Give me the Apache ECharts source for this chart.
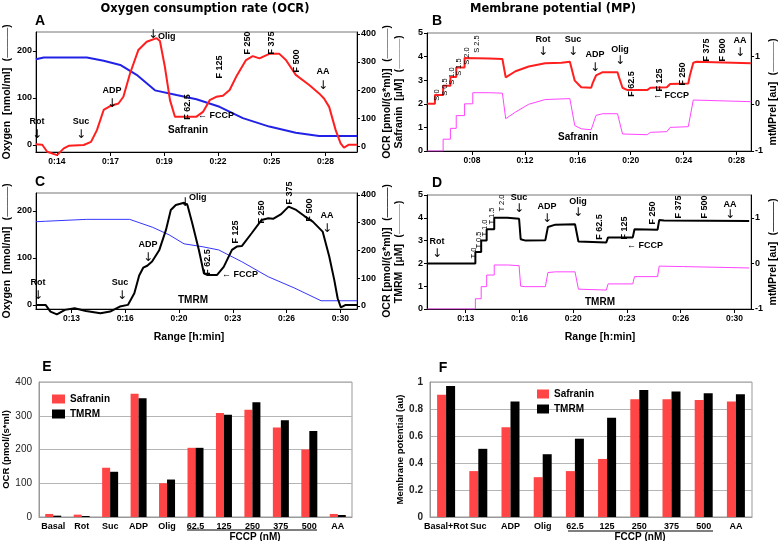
<!DOCTYPE html>
<html><head><meta charset="utf-8">
<script src="https://cdn.jsdelivr.net/npm/echarts@6/dist/echarts.min.js"></script>
<style>html,body{margin:0;padding:0;background:#fff}#c{width:780px;height:541px}</style>
</head><body><div id="c"></div>
<script>
// ---------- Panel A (Safranin run) ----------
const aOcrTime = [12.93,13.26,13.51,14.01,14.35,14.6,15.36,15.73,16.03,16.37,16.7,17.12,17.37,17.71,18.13,18.55,19.05,19.22,19.47,19.73,19.98,20.23,21.07,21.4,21.74,22.07,22.41,22.75,23.08,23.58,23.92,24.26,24.76,25.27,25.6,26.1,26.78,27.28,27.53,27.79,28.12,28.37,28.54,28.79,29.2];
const aOcr = [7,5,-20,-32,-8,1,4,15,57,129,143,152,176,260,343,372,385,375,283,164,105,105,105,122,164,176,180,200,247,307,321,313,329,329,307,254,218,188,170,140,57,10,-5,5,5];
const aO2Time = [12.94,13.34,15.52,16.37,17.21,18.04,18.97,20.06,21.07,22.24,23.42,24.76,26.1,27.28,29.2];
const aO2 = [182,186,186,179,170,149,116,106,97,81,57,39,26,19,19];
const aTicks = [14,16.72,19.44,22.16,24.88,27.6];
const aTickLabels = ['0:14','0:17','0:19','0:22','0:25','0:28'];

// ---------- Panel C (TMRM run) ----------
const cOcrTime = [10.8,11.4,11.7,12.1,12.6,13.2,13.9,14.8,15.4,16.0,16.5,16.9,17.2,17.45,17.7,18.0,18.45,18.86,19.16,19.47,19.98,20.19,20.49,20.9,21.21,21.41,22.03,22.44,22.95,23.25,23.56,24.17,24.79,25.2,25.5,26.0,26.46,26.93,27.44,27.96,28.57,28.98,29.29,29.5,29.7,30.0,30.7];
const cOcr = [4,4,-20,-30,-14,-8,-18,-26,-20,-2,4,46,110,138,145,160,202,274,346,364,372,364,298,202,118,112,112,141,202,214,216,262,310,316,314,331,358,346,324,304,268,178,94,28,-5,4,4];
const cO2Time = [10.8,11.4,13.95,16.61,18.04,19.06,19.98,21.1,22.13,23.56,25.2,26.83,28.47,30.7];
const cO2 = [177,178,182,182,165,149,130,124,117,92,60,36,9,9];
const cTicks = [13,16.33,19.67,23,26.33,29.67];
const cTickLabels = ['0:13','0:16','0:20','0:23','0:26','0:30'];

// ---------- Panel B (Safranin MP) ----------
const bRedTime = [4.62,5.2,5.2,5.82,5.82,6.37,6.37,6.81,6.81,7.44,7.44,9.3,10.3,10.55,11.29,12.29,13.53,14.77,15.4,15.77,16.26,17.01,17.14,17.38,17.88,19.0,19.13,19.38,19.75,21.24,21.49,22.73,22.98,24.35,24.47,24.73,24.97,29.08];
const bRed = [0,0,0.185,0.185,0.38,0.38,0.57,0.57,0.77,0.77,0.97,0.96,0.95,0.56,0.69,0.79,0.86,0.87,0.89,0.49,0.35,0.34,0.45,0.6,0.67,0.67,0.55,0.34,0.29,0.29,0.34,0.35,0.42,0.43,0.6,0.87,0.89,0.86];
const bMagTime = [4.62,5.82,5.82,6.37,6.37,6.81,6.81,7.44,7.44,8.06,8.06,9.3,10.3,10.55,11.29,12.29,13.53,15.4,15.77,16.26,17.01,17.14,17.38,17.88,19.0,19.13,19.38,21.24,21.49,22.73,22.98,24.35,24.47,24.73,29.08];
const bMag = [0,0,0.5,0.5,0.96,0.96,1.5,1.5,2.0,2.0,2.47,2.47,2.45,1.37,1.65,1.98,2.18,2.22,1.08,0.94,0.9,0.9,1.51,1.58,1.58,1.58,0.72,0.69,0.79,0.82,1.0,1.03,1.03,2.16,2.09];
const bTicks = [8,12,16,20,24,28];
const bTickLabels = ['0:08','0:12','0:16','0:20','0:24','0:28'];

// ---------- Panel D (TMRM MP) ----------
const dBlkTime = [10.62,13.6,13.6,13.96,13.96,14.3,14.3,14.77,14.77,15.59,16.31,16.41,16.72,17.94,18.1,18.56,19.78,19.99,21.72,21.83,23.36,23.47,24.9,25.0,25.3,30.58];
const dBlk = [0,0,0.25,0.25,0.5,0.5,0.75,0.75,1.0,1.0,0.98,0.53,0.5,0.51,0.8,0.85,0.86,0.48,0.46,0.57,0.57,0.75,0.74,0.95,0.94,0.93];
const dMagTime = [10.62,13.6,13.6,13.96,13.96,14.3,14.3,14.77,14.77,15.59,16.31,16.41,16.72,17.94,18.1,18.56,19.78,19.99,21.72,21.83,23.36,23.47,24.9,25.0,26.5,30.58];
const dMag = [0,0,0.45,0.45,0.98,0.98,1.49,1.49,1.93,1.93,1.9,1.0,0.98,0.98,1.6,1.63,1.63,0.87,0.83,1.1,1.1,1.42,1.42,1.88,1.86,1.8];
const dTicks = [13,16.33,19.67,23,26.33,29.67];
const dTickLabels = ['0:13','0:16','0:20','0:23','0:26','0:30'];

// ---------- Panel E (OCR bars) ----------
const eCats = ['Basal','Rot','Suc','ADP','Olig','62.5','125','250','375','500','AA'];
const eSaf = [9,7,146,365,100,205,308,318,265,200,9];
const eTmrm = [4,3,134,352,111,205,303,340,287,255,6];

// ---------- Panel F (MP bars) ----------
const fCats = ['Basal+Rot','Suc','ADP','Olig','62.5','125','250','375','500','AA'];
const fSaf = [0.905,0.34,0.665,0.295,0.34,0.43,0.872,0.872,0.867,0.855];
const fTmrm = [0.97,0.505,0.855,0.465,0.58,0.735,0.94,0.93,0.917,0.91];

// ================= rendering =================
const FF = '"Liberation Sans", Arial, sans-serif';
const fnt = (s, w) => (w || 'bold') + ' ' + s + 'px ' + FF;
const zip = (xs, ys) => xs.map((x, i) => [x, ys[i]]);
const RED = '#ff1f1f', BLUE = '#2222e6', MAG = '#ff45ff', BARRED = '#ff4545';

function timeAxis(g, min, max, ticks, labels) {
  return {
    type: 'value', gridIndex: g, min: min, max: max,
    axisLine: { show: true, onZero: false, lineStyle: { color: '#000', width: 1 } },
    axisTick: { show: true, customValues: ticks, length: 4, lineStyle: { color: '#000' } },
    axisLabel: {
      customValues: ticks, margin: 5, color: '#000', fontFamily: FF, fontWeight: 'bold', fontSize: 8.5,
      formatter: v => { const i = ticks.findIndex(t => Math.abs(t - v) < 1e-6); return i >= 0 ? labels[i] : ''; }
    },
    splitLine: { show: false }
  };
}
function valAxis(g, pos, min, max, ticks, name, gap, lineColor) {
  return {
    type: 'value', gridIndex: g, position: pos, min: min, max: max,
    axisLine: { show: true, onZero: false, lineStyle: { color: '#000', width: 1 } },
    axisTick: { show: true, customValues: ticks, length: 3, lineStyle: { color: '#000' } },
    axisLabel: { customValues: ticks, margin: 4, color: '#000', fontFamily: FF, fontWeight: 'bold', fontSize: 9 },
    splitLine: { show: false },
    name: '{t|' + name + '}  {p|(}{l|———}{p|)}',
    nameLocation: 'middle', nameRotate: 90, nameGap: gap,
    nameTextStyle: {
      rich: {
        t: { fontFamily: FF, fontWeight: 'bold', fontSize: 10.5, color: '#000' },
        p: { fontFamily: FF, fontWeight: 'bold', fontSize: 10, color: '#000' },
        l: { fontFamily: FF, fontSize: 10, color: lineColor }
      }
    }
  };
}
function lineSeries(name, xi, yi, data, color, width, clip) {
  return { name: name, type: 'line', xAxisIndex: xi, yAxisIndex: yi, data: data, showSymbol: false, symbol: 'none',
    lineStyle: { color: color, width: width }, itemStyle: { color: color }, clip: clip !== false, animation: false };
}

const grids = [
  { left: 32, top: 32, width: 325, height: 120, show: true, borderColor: '#777', borderWidth: 1 },   // A
  { left: 32, top: 193, width: 325, height: 116, show: true, borderColor: '#777', borderWidth: 1 },  // C
  { left: 427, top: 33, width: 328, height: 118, show: true, borderColor: '#777', borderWidth: 1 },  // B
  { left: 427, top: 195, width: 326, height: 114, show: true, borderColor: '#777', borderWidth: 1 }, // D
  { left: 39, top: 382, width: 313, height: 135, show: true, borderColor: '#999', borderWidth: 1 },  // E
  { left: 430, top: 382, width: 322, height: 135, show: true, borderColor: '#999', borderWidth: 1 }  // F
];

function catAxis(g, cats) {
  return {
    type: 'category', gridIndex: g, data: cats,
    axisLine: { show: true, lineStyle: { color: '#999' } },
    axisTick: { show: false },
    axisLabel: { interval: 0, margin: 5, color: '#000', fontFamily: FF, fontWeight: 'bold', fontSize: 9 },
    splitLine: { show: false }
  };
}
function barY(g, max, interval, name, gap, labelWeight) {
  return {
    type: 'value', gridIndex: g, min: 0, max: max, interval: interval,
    axisLine: { show: true, lineStyle: { color: '#999' } },
    axisTick: { show: false },
    axisLabel: { margin: 7, color: '#222', fontFamily: FF, fontWeight: labelWeight, fontSize: 10 },
    splitLine: { show: true, lineStyle: { color: '#b5b5b5', width: 1 } },
    name: name, nameLocation: 'middle', nameRotate: 90, nameGap: gap,
    nameTextStyle: { fontFamily: FF, fontWeight: 'bold', fontSize: 9.5, color: '#000' }
  };
}

const xAxes = [
  timeAxis(0, 12.94, 29.2, aTicks, aTickLabels),
  timeAxis(1, 10.8, 30.7, cTicks, cTickLabels),
  timeAxis(2, 4.6, 29.1, bTicks, bTickLabels),
  timeAxis(3, 10.6, 30.7, dTicks, dTickLabels),
  catAxis(4, eCats),
  catAxis(5, fCats)
];
const yAxes = [
  valAxis(0, 'left', -15, 240, [0, 100, 200], 'Oxygen  [nmol/ml]', 19, BLUE),
  valAxis(0, 'right', -21, 407, [0, 100, 200, 300, 400], 'OCR [pmol/(s*ml)]', 24, RED),
  valAxis(1, 'left', -8.5, 238, [0, 100, 200], 'Oxygen  [nmol/ml]', 19, BLUE),
  valAxis(1, 'right', -10.8, 407, [0, 100, 200, 300, 400], 'OCR [pmol/(s*ml)]', 24, '#000'),
  valAxis(2, 'left', 0, 5, [0, 1, 2, 3, 4, 5], 'Safranin  [µM]', 22, MAG),
  valAxis(2, 'right', -1, 1.5, [-1, 0, 1], 'mtMPrel [au]', 12, RED),
  valAxis(3, 'left', 0, 5, [0, 1, 2, 3, 4, 5], 'TMRM  [µM]', 22, MAG),
  valAxis(3, 'right', -1, 1.5, [-1, 0, 1], 'mtMPrel [au]', 12, '#000'),
  barY(4, 400, 100, 'OCR (pmol/(s*ml)', 26, 'normal'),
  barY(5, 1, 0.2, 'Membrane potential (au)', 17, 'bold')
];

const series = [
  lineSeries('O2 A', 0, 0, zip(aO2Time, aO2), BLUE, 2),
  lineSeries('OCR A', 0, 1, zip(aOcrTime, aOcr), RED, 2, false),
  lineSeries('O2 C', 1, 2, zip(cO2Time, cO2), '#3535ff', 1),
  lineSeries('OCR C', 1, 3, zip(cOcrTime, cOcr), '#000', 2, false),
  lineSeries('Saf B', 2, 4, zip(bMagTime, bMag), MAG, 1),
  lineSeries('MP B', 2, 5, zip(bRedTime, bRed), RED, 2),
  lineSeries('TMRM D', 3, 6, zip(dMagTime, dMag), MAG, 1),
  lineSeries('MP D', 3, 7, zip(dBlkTime, dBlk), '#000', 2),
  { name: 'Safranin', type: 'bar', xAxisIndex: 4, yAxisIndex: 8, data: eSaf, barWidth: 8, barGap: '0%', itemStyle: { color: BARRED }, animation: false },
  { name: 'TMRM', type: 'bar', xAxisIndex: 4, yAxisIndex: 8, data: eTmrm, barWidth: 8, barGap: '0%', itemStyle: { color: '#000' }, animation: false },
  { name: 'Safranin', type: 'bar', xAxisIndex: 5, yAxisIndex: 9, data: fSaf, barWidth: 9, barGap: '0%', itemStyle: { color: BARRED }, animation: false },
  { name: 'TMRM', type: 'bar', xAxisIndex: 5, yAxisIndex: 9, data: fTmrm, barWidth: 9, barGap: '0%', itemStyle: { color: '#000' }, animation: false }
];

// ---- annotations ----
function T(x, y, s, o) {
  o = o || {};
  return { type: 'text', x: x, y: y, rotation: o.rot ? Math.PI / 2 : 0, z: 100,
    style: { text: s, font: o.font || fnt(o.size || 9), fill: o.color || '#000',
      textAlign: o.align || 'center', textVerticalAlign: 'middle' } };
}
function AR(x, y) { return T(x, y, '↓', { font: 'normal 12px "DejaVu Sans", sans-serif' }); }
function L(x1, y1, x2, y2) {
  return { type: 'line', z: 100, shape: { x1: x1, y1: y1, x2: x2, y2: y2 }, style: { stroke: '#000', lineWidth: 1 } };
}
const R = { rot: true };
const SM = { rot: true, font: fnt(7.5, 'normal') };
const titleFont = 'bold 11.5px "DejaVu Sans", sans-serif';
const letterFont = fnt(14);
const graphics = [
  T(205, 9, 'Oxygen consumption rate (OCR)', { font: titleFont }),
  T(553, 9, 'Membrane potential (MP)', { font: titleFont }),
  T(40, 21, 'A', { font: letterFont }), T(437, 21, 'B', { font: letterFont }),
  T(40, 182, 'C', { font: letterFont }), T(437, 183, 'D', { font: letterFont }),
  T(47, 367, 'E', { font: letterFont }), T(443, 368, 'F', { font: letterFont }),
  // A
  T(37, 122, 'Rot'), AR(37, 135), T(81, 122, 'Suc'), AR(81, 135),
  T(112, 91, 'ADP'), AR(112, 104), AR(153, 35), T(158, 37, 'Olig', { align: 'left' }),
  T(188, 107, 'F 62.5', R), T(216, 116, '← FCCP'), T(220, 67, 'F 125', R),
  T(248, 43, 'F 250', R), T(272, 43, 'F 375', R), T(297, 61, 'F 500', R),
  T(323, 72, 'AA'), AR(323, 86), T(188, 130, 'Safranin', { size: 10 }),
  // C
  T(38, 283, 'Rot'), AR(38, 296), T(120, 283, 'Suc'), AR(122, 296),
  T(148, 245, 'ADP'), AR(148, 258), AR(185, 203), T(189, 198, 'Olig', { align: 'left' }),
  T(208, 262, 'F 62.5', R), T(240, 275, '← FCCP'), T(236, 232, 'F 125', R),
  T(262, 212, 'F 250', R), T(290, 193, 'F 375', R), T(310, 210, 'F 500', R),
  T(327, 216, 'AA'), AR(327, 229), T(193, 300, 'TMRM', { size: 10 }),
  // B
  T(437, 95, 'S 0', SM), T(445, 87, 'S 0.5', SM), T(452, 76, 'S 1.0', SM),
  T(459, 67, 'S 1.5', SM), T(467, 56, 'S 2.0', SM), T(477, 44, 'S 2.5', SM),
  T(543, 40, 'Rot'), AR(543, 52), T(573, 40, 'Suc'), AR(573, 52),
  T(595, 55, 'ADP'), AR(595, 68), T(620, 50, 'Olig'), AR(620, 61),
  T(632, 84, 'F 62.5', R), T(660, 80, 'F 125', R), T(671, 96, '← FCCP'),
  T(683, 74, 'F 250', R), T(707, 50, 'F 375', R), T(723, 50, 'F 500', R),
  T(740, 41, 'AA'), AR(740, 53), T(578, 137, 'Safranin', { size: 10 }),
  // D
  T(437, 242, 'Rot'), AR(437, 254),
  T(474, 253, 'T 0', SM), T(479, 240, 'T 0.5', SM), T(485, 228, 'T 1.0', SM),
  T(492, 216, 'T 1.5', SM), T(502, 203, 'T 2.0', SM),
  T(519, 198, 'Suc'), AR(519, 209), T(547, 207, 'ADP'), AR(547, 219),
  T(578, 202, 'Olig'), AR(578, 213),
  T(600, 227, 'F 62.5', R), T(625, 228, 'F 125', R), T(645, 246, '← FCCP'),
  T(653, 213, 'F 250', R), T(679, 207, 'F 375', R), T(705, 207, 'F 500', R),
  T(730, 205, 'AA'), AR(730, 215), T(600, 302, 'TMRM', { size: 10 }),
  // axis titles
  T(189, 337, 'Range [h:min]', { size: 10.5 }), T(600, 337, 'Range [h:min]', { size: 10.5 }),
  L(187, 530, 317, 530), T(255, 537, 'FCCP (nM)', { size: 10 }),
  L(568, 531, 713, 531), T(640, 537, 'FCCP (nM)', { size: 10 })
];

const chart = echarts.init(document.getElementById('c'), null, { renderer: 'canvas' });
chart.setOption({
  animation: false,
  backgroundColor: '#fff',
  grid: grids,
  xAxis: xAxes,
  yAxis: yAxes,
  legend: [
    { data: ['Safranin', 'TMRM'], left: 47, top: 389, orient: 'vertical', itemWidth: 13, itemHeight: 9, itemGap: 5,
      icon: 'rect', textStyle: { fontFamily: FF, fontWeight: 'bold', fontSize: 10, color: '#000' }, selectedMode: false },
    { data: ['Safranin', 'TMRM'], left: 532, top: 384, orient: 'vertical', itemWidth: 12, itemHeight: 9, itemGap: 5,
      icon: 'rect', textStyle: { fontFamily: FF, fontWeight: 'bold', fontSize: 10, color: '#000' }, selectedMode: false }
  ],
  series: series,
  graphic: graphics
});
</script></body></html>
